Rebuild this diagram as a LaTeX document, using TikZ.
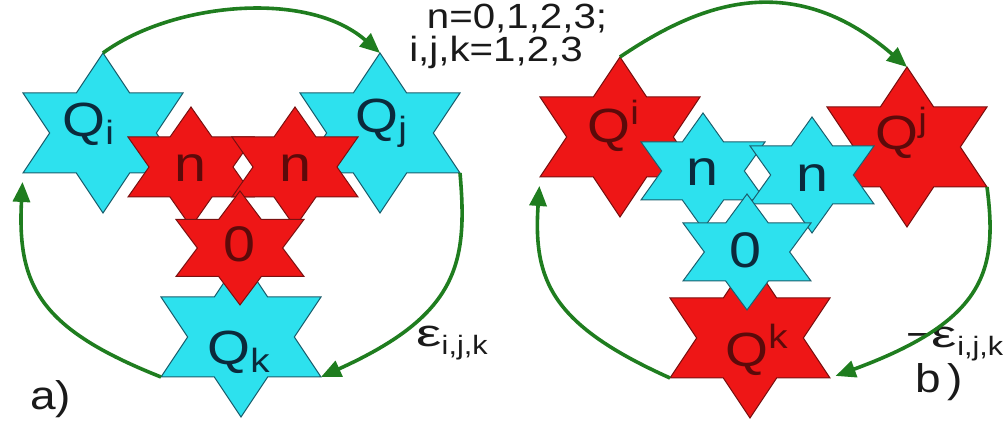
\documentclass[tikz,border=0pt]{standalone}
\usepackage{fontspec}
\setmainfont{Liberation Sans}[FakeStretch=1.15]
\usepackage{graphicx}
\usepackage{tikz}
\usetikzlibrary{arrows.meta}
\definecolor{starcyan}{HTML}{2DE1EE}
\definecolor{cyanedge}{HTML}{1B5F6E}
\definecolor{starred}{HTML}{EE1616}
\definecolor{rededge}{HTML}{7A1010}
\definecolor{navytext}{HTML}{0B2A3C}
\definecolor{maroontext}{HTML}{5C0A0A}
\definecolor{arcgreen}{HTML}{1F7D1F}
\definecolor{inktext}{HTML}{1A1A1A}

% six-pointed star: half width #1, half height #2, fill style #3
\tikzset{
  pics/hexstar/.style n args={3}{code={
    \path[#3] (0,#2) -- ({#1/3},{#2/2}) -- (#1,{#2/2}) -- ({2*#1/3},0)
      -- (#1,{-#2/2}) -- ({#1/3},{-#2/2}) -- (0,-#2) -- ({-#1/3},{-#2/2})
      -- (-#1,{-#2/2}) -- ({-2*#1/3},0) -- (-#1,{#2/2}) -- ({-#1/3},{#2/2}) -- cycle;
    \coordinate (-t) at (0,#2);
    \coordinate (-ll) at (-#1,{-#2/2});
    \coordinate (-lr) at (#1,{-#2/2});
  }}
}

\begin{document}
\begin{tikzpicture}[x=0.5pt,y=0.5pt,
    cyanstar/.style={fill=starcyan,draw=cyanedge,line width=0.5pt},
    redstar/.style={fill=starred,draw=rededge,line width=0.5pt},
    qcyan/.style={font=\fontsize{24}{28}\selectfont,text=navytext,inner sep=0pt,anchor=base west},
    qred/.style={font=\fontsize{24}{28}\selectfont,text=maroontext,inner sep=0pt,anchor=base west},
    ncyan/.style={font=\fontsize{25}{28}\selectfont,text=navytext,inner sep=0pt},
    nred/.style={font=\fontsize{25}{28}\selectfont,text=maroontext,inner sep=0pt},
    header/.style={font=\fontsize{17.5}{20}\selectfont,text=inktext,inner sep=0pt,anchor=base},
    epslab/.style={font=\fontsize{19}{22}\selectfont,text=inktext,inner sep=0pt,anchor=base west},
    panel/.style={font=\fontsize{20}{24}\selectfont,text=inktext,inner sep=0pt,anchor=base west},
    cycarc/.style={draw=arcgreen,line width=1.8pt,-{Triangle[length=10pt,width=8.5pt]}},
  ]
  \useasboundingbox (0,0) rectangle (1008,421);

  % panel a) -- cyan Q stars round red n,n,0
  \pic (aQi) at (103,288) {hexstar={80}{80}{cyanstar}};
  \pic (aQj) at (380,288) {hexstar={80}{80}{cyanstar}};
  \pic (aQk) at (241,84) {hexstar={80}{80}{cyanstar}};
  \pic (an1) at (191,254) {hexstar={63}{60}{redstar}};
  \pic (an2) at (295,254) {hexstar={63}{60}{redstar}};
  \pic (a0) at (240,173) {hexstar={64}{57}{redstar}};

  \node[qcyan] (laQi) at (62,284) {Q\textsubscript{i}};
  \node[qcyan] (laQj) at (355,288) {Q\textsubscript{j}};
  \node[qcyan] (laQk) at (207,56) {Q\textsubscript{k}};
  \node[nred] (lan1) at (190,253) {n};
  \node[nred] (lan2) at (295,253) {n};
  \node[nred] (la0) at (239,177) {0};

  % panel b) -- red Q stars round cyan n,n,0
  \pic (bQi) at (620,284) {hexstar={80}{80}{redstar}};
  \pic (bQj) at (907,274) {hexstar={80}{80}{redstar}};
  \pic (bQk) at (750,83) {hexstar={80}{80}{redstar}};
  \pic (bn1) at (703,250) {hexstar={62}{58}{cyanstar}};
  \pic (bn2) at (812,246) {hexstar={62}{58}{cyanstar}};
  \pic (b0) at (747,169) {hexstar={64}{58}{cyanstar}};

  \node[qred] (lbQi) at (587,278) {Q\textsuperscript{i}};
  \node[qred] (lbQj) at (875,271) {Q\textsuperscript{j}};
  \node[qred] (lbQk) at (725,54) {Q\textsuperscript{k}};
  \node[ncyan] (lbn1) at (702,249) {n};
  \node[ncyan] (lbn2) at (812,243) {n};
  \node[ncyan] (lb0) at (745,171) {0};

  % texts
  \node[header] (hn) at (517,392) {n=0,1,2,3;};
  \node[header] (hijk) at (496,359) {i,j,k=1,2,3};
  \node[epslab] (epsa) at (416,74) {\scalebox{1.3}[1]{ε}\textsubscript{i,j,k}};
  \node[epslab] (epsb) at (906,73) {−\scalebox{1.3}[1]{ε}\textsubscript{i,j,k}};
  \node[panel] (pa) at (30,11) {a)};
  \node[panel] (pb) at (915,28) {b\,)};

  % cyclic arrows
  \draw[cycarc] (aQi-t) .. controls (171,418) and (307,432) .. (aQj-t);
  \draw[cycarc] (aQj-lr) .. controls (468,157) and (458,106) .. (aQk-lr);
  \draw[cycarc,shorten >=4.5pt] (aQk-ll) .. controls (40,92) and (17,135) .. (aQi-ll);
  \draw[cycarc] (bQi-t) .. controls (694,414) and (789,456) .. (bQj-t);
  \draw[cycarc,shorten >=3pt] (bQj-lr) .. controls (998,150) and (985,100) .. (bQk-lr);
  \draw[cycarc,shorten >=4.5pt] (bQk-ll) .. controls (552,96) and (533,140) .. (bQi-ll);
\end{tikzpicture}
\end{document}
